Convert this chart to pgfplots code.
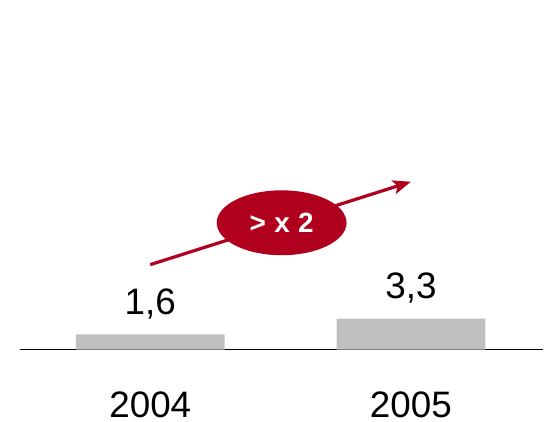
\documentclass[border=0pt]{standalone}
\usepackage{pgfplots}
\pgfplotsset{compat=1.18}
\usepackage{fontspec}
\setmainfont{Liberation Sans}
\usetikzlibrary{arrows.meta,shapes.geometric}
\definecolor{bargray}{RGB}{192,192,192}
\definecolor{darkred}{RGB}{176,0,30}

\begin{document}
\begin{tikzpicture}
  \begin{axis}[
      width=544bp, height=422bp, scale only axis,
      xmin=-0.5766, xmax=1.5077,
      ymin=-7.66, ymax=37.23,
      clip=false,
      axis line style={draw=none},
      tick style={draw=none},
      ytick=\empty,
      xtick=data,
      xticklabels={2004,2005},
      xticklabel style={anchor=base, yshift=4bp, inner sep=0pt,
        font=\fontsize{37}{40}\selectfont},
      /pgf/number format/.cd, use comma, fixed, precision=1,
        fixed zerofill, assume math mode=true,
  ]
    % base line
    \draw[black, line width=1.5bp] (axis cs:-0.5,0) -- (axis cs:1.5077,0);

    \addplot[ybar, bar width=0.571, fill=bargray, draw=none,
        nodes near coords,
        every node near coord/.style={anchor=base, yshift=20bp,
          font=\fontsize{37}{40}\selectfont, text=black}]
      coordinates {(0,1.6) (1,3.3)};

    % growth arrow and badge
    \draw[darkred, line width=3.2bp, -{Stealth[length=18bp,width=14bp,inset=4bp]}]
      (axis cs:0,9.04) -- (axis cs:1,17.87);
    \node[ellipse, fill=darkred, minimum width=130bp, minimum height=65bp,
          inner sep=0pt, text=white,
          font=\bfseries\fontsize{28}{30}\selectfont]
      at (axis cs:0.504,13.5) {>\hspace{0.3em}x\hspace{0.3em}2};
  \end{axis}
\end{tikzpicture}
\end{document}
